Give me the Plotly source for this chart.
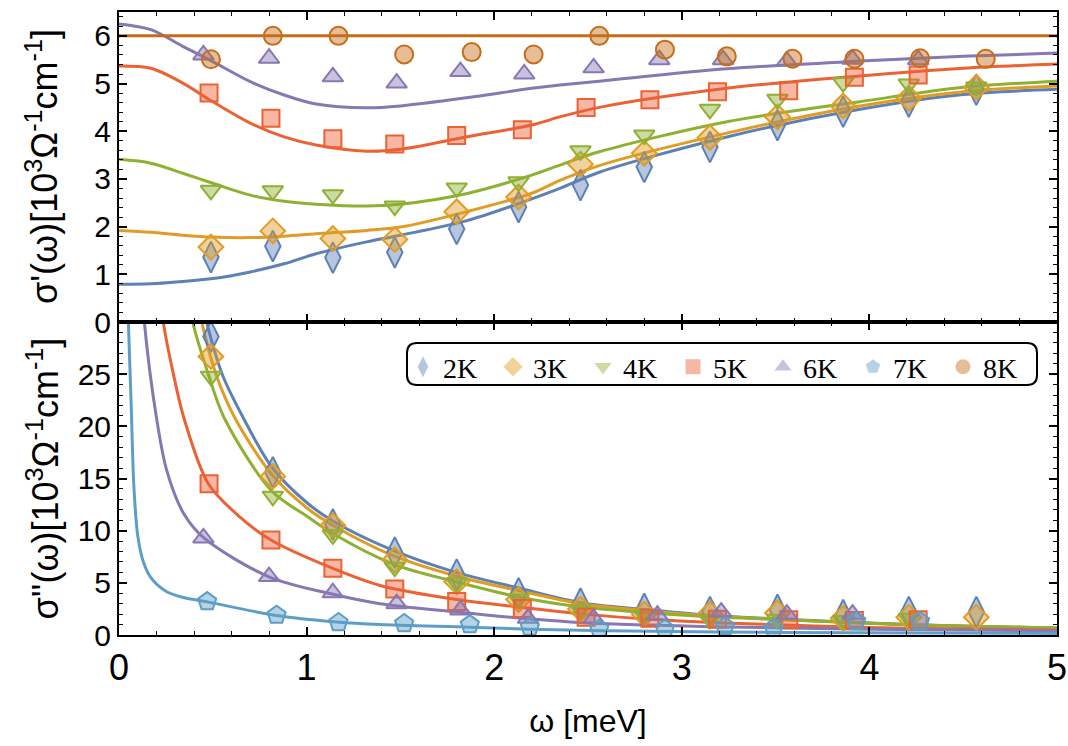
import plotly.graph_objects as go

# ---------------- data: top panel sigma' (10^3 Ohm^-1 cm^-1) ----------------
temps = ["2K", "3K", "4K", "5K", "6K", "7K", "8K"]

x_pts_a = [0.49, 0.82, 1.14, 1.47, 1.80, 2.13, 2.46, 2.80, 3.15, 3.51, 3.86, 4.21, 4.57]
s1_2K = [1.36, 1.59, 1.35, 1.46, 1.95, 2.41, 2.87, 3.25, 3.67, 4.13, 4.41, 4.62, 4.87]
s1_3K = [1.57, 1.91, 1.75, 1.73, 2.31, 2.62, 3.31, 3.54, 3.87, 4.30, 4.53, 4.69, 4.92]
s1_4K = [2.76, 2.75, 2.67, 2.43, 2.81, 2.94, 3.59, 3.92, 4.46, 4.67, 5.02, 4.99, 4.93]
x_pts_5K = [0.48, 0.81, 1.14, 1.47, 1.80, 2.15, 2.49, 2.83, 3.19, 3.57, 3.92, 4.26]
s1_5K = [4.80, 4.27, 3.84, 3.73, 3.91, 4.03, 4.50, 4.66, 4.83, 4.85, 5.13, 5.18]
x_pts_6K = [0.45, 0.80, 1.14, 1.48, 1.82, 2.16, 2.53, 2.88, 3.22, 3.56, 3.91, 4.26]
s1_6K = [5.60, 5.53, 5.14, 5.01, 5.25, 5.20, 5.33, 5.50, 5.50, 5.47, 5.51, 5.50]
x_pts_8K = [0.49, 0.82, 1.17, 1.52, 1.88, 2.21, 2.56, 2.91, 3.24, 3.59, 3.92, 4.27, 4.62]
s1_8K = [5.51, 6.00, 6.00, 5.61, 5.66, 5.61, 6.00, 5.71, 5.57, 5.52, 5.52, 5.53, 5.52]

# fit curves
x_fit_top = [0, 0.17, 0.34, 0.5, 0.7, 0.88, 1.05, 1.32, 1.5, 1.85, 2.2, 2.35, 2.56, 3.24, 3.95, 4.5, 5.0]
f1_2K = [0.79, 0.80, 0.85, 0.91, 1.05, 1.22, 1.43, 1.68, 1.82, 2.12, 2.58, 2.80, 3.14, 3.88, 4.46, 4.77, 4.88]
f1_3K = [1.92, 1.88, 1.82, 1.78, 1.77, 1.80, 1.85, 1.92, 1.99, 2.31, 2.70, 2.97, 3.28, 3.96, 4.53, 4.83, 4.95]
f1_4K = [3.41, 3.33, 3.12, 2.91, 2.66, 2.53, 2.47, 2.43, 2.47, 2.69, 3.08, 3.29, 3.57, 4.20, 4.62, 4.92, 5.05]
f1_5K = [5.37, 5.32, 5.01, 4.62, 4.17, 3.88, 3.71, 3.58, 3.62, 3.88, 4.13, 4.30, 4.50, 4.90, 5.16, 5.32, 5.41]
f1_6K = [6.25, 6.13, 5.78, 5.46, 5.04, 4.76, 4.57, 4.49, 4.53, 4.70, 4.90, 4.97, 5.05, 5.31, 5.47, 5.57, 5.64]
x_fit_8K = [0, 5.0]
f1_8K = [6.0, 6.0]

# ---------------- data: bottom panel sigma'' ----------------
s2_2K = [28.6, 15.6, 10.6, 7.9, 5.8, 4.0, 3.0, 2.5, 2.2, 2.4, 1.9, 2.2, 2.2]
s2_3K = [26.7, 15.2, 10.5, 7.2, 5.1, 3.4, 2.5, 2.0, 2.0, 2.1, 1.6, 1.7, 1.7]
x_pts2_4K = [0.49, 0.82, 1.14, 1.47, 1.80, 2.13, 2.46, 2.80, 3.15, 3.51, 3.86, 4.21]
s2_4K = [24.8, 13.3, 9.6, 6.5, 5.0, 3.45, 2.4, 1.9, 1.5, 1.5, 1.4, 1.6]
s2_5K = [14.5, 9.1, 6.4, 4.4, 3.2, 2.55, 1.7, 1.6, 1.5, 1.45, 1.4, 1.45]
x_pts2_6K = [0.45, 0.80, 1.14, 1.48, 1.82, 2.18, 2.53, 2.87, 3.21, 3.56, 3.91]
s2_6K = [9.3, 5.6, 4.05, 3.0, 2.4, 1.6, 1.6, 1.9, 2.2, 2.0, 2.0]
x_pts2_7K = [0.47, 0.84, 1.17, 1.52, 1.87, 2.19, 2.56, 2.91, 3.23, 3.49, 3.93, 4.27]
s2_7K = [3.2, 1.9, 1.2, 1.1, 1.0, 0.75, 0.58, 0.58, 0.8, 0.64, 1.3, 1.3]

xf2_2K = [0.42, 0.467, 0.55, 0.663, 0.814, 1.0, 1.142, 1.462, 1.796, 2.13, 2.46, 2.8, 3.1, 3.5, 3.9, 4.25, 4.6, 5.0]
f2_2K = [34, 30, 25.0, 20.8, 16.1, 12.7, 10.9, 8.1, 6.0, 4.5, 3.1, 2.45, 1.95, 1.55, 1.22, 0.98, 0.82, 0.66]
xf2_3K = [0.40, 0.441, 0.517, 0.618, 0.814, 1.0, 1.142, 1.462, 1.796, 2.13, 2.46, 2.8, 3.1, 3.5, 3.9, 4.25, 4.6, 5.0]
f2_3K = [34, 30, 25, 20.8, 15.4, 12.2, 10.5, 7.6, 5.65, 4.25, 3.0, 2.35, 1.9, 1.5, 1.2, 0.96, 0.8, 0.65]
xf2_4K = [0.35, 0.393, 0.476, 0.561, 0.814, 1.0, 1.142, 1.462, 1.796, 2.13, 2.46, 2.8, 3.1, 3.5, 3.9, 4.25, 4.6, 5.0]
f2_4K = [35, 30, 25, 20.8, 13.8, 11.4, 9.7, 6.8, 5.1, 3.65, 2.7, 2.15, 1.8, 1.5, 1.2, 0.97, 0.82, 0.68]
xf2_5K = [0.2, 0.236, 0.29, 0.346, 0.476, 0.645, 0.81, 1.137, 1.391, 1.8, 2.147, 2.48, 2.83, 3.18, 4.0, 5.0]
f2_5K = [36, 30, 25, 20.8, 14.5, 11.3, 9.1, 6.4, 4.75, 3.4, 2.65, 2.0, 1.5, 1.18, 0.72, 0.48]
xf2_6K = [0.11, 0.135, 0.2, 0.254, 0.343, 0.453, 0.796, 1.142, 1.391, 1.8, 2.15, 2.5, 2.84, 3.15, 4.0, 5.0]
f2_6K = [37, 30, 20.8, 15.8, 11.7, 9.3, 5.6, 3.9, 3.0, 2.2, 1.6, 1.15, 0.95, 0.8, 0.55, 0.4]
xf2_7K = [0.045, 0.05, 0.065, 0.08, 0.1, 0.13, 0.17, 0.25, 0.343, 0.465, 0.83, 1.16, 1.391, 1.87, 2.19, 2.6, 3.5, 5.0]
f2_7K = [33, 30, 22, 14, 9.5, 7.0, 5.5, 4.2, 3.6, 3.2, 1.9, 1.25, 1.0, 0.75, 0.55, 0.4, 0.25, 0.15]

# ---------------- styles ----------------
col = {"2K": "94,129,181", "3K": "225,156,36", "4K": "143,176,50", "5K": "235,98,53",
       "6K": "135,120,179", "7K": "93,158,199", "8K": "197,110,26"}
sym = {"2K": "diamond-tall", "3K": "diamond", "4K": "triangle-down", "5K": "square",
       "6K": "triangle-up", "7K": "pentagon", "8K": "circle"}
msz = {"2K": 22, "3K": 19, "4K": 18, "5K": 17, "6K": 18, "7K": 19, "8K": 18}

fig = go.Figure()


def add_line(x, y, t, xa, ya):
    fig.add_trace(go.Scatter(x=x, y=y, mode="lines", xaxis=xa, yaxis=ya, showlegend=False,
                             line=dict(color="rgb(%s)" % col[t], width=3, shape="spline", smoothing=0.9),
                             hoverinfo="skip"))


def add_pts(x, y, t, xa, ya):
    fig.add_trace(go.Scatter(x=x, y=y, mode="markers", xaxis=xa, yaxis=ya, showlegend=False,
                             marker=dict(symbol=sym[t], size=msz[t], color="rgba(%s,0.45)" % col[t],
                                         line=dict(color="rgb(%s)" % col[t], width=2)),
                             cliponaxis=True))


# top panel
for xx, yy, t in [(x_fit_top, f1_2K, "2K"), (x_fit_top, f1_3K, "3K"), (x_fit_top, f1_4K, "4K"),
                  (x_fit_top, f1_5K, "5K"), (x_fit_top, f1_6K, "6K"), (x_fit_8K, f1_8K, "8K")]:
    add_line(xx, yy, t, "x2", "y2")
for xx, yy, t in [(x_pts_a, s1_2K, "2K"), (x_pts_a, s1_3K, "3K"), (x_pts_a, s1_4K, "4K"),
                  (x_pts_5K, s1_5K, "5K"), (x_pts_6K, s1_6K, "6K"), (x_pts_8K, s1_8K, "8K")]:
    add_pts(xx, yy, t, "x2", "y2")

# bottom panel
for xx, yy, t in [(xf2_2K, f2_2K, "2K"), (xf2_3K, f2_3K, "3K"), (xf2_4K, f2_4K, "4K"),
                  (xf2_5K, f2_5K, "5K"), (xf2_6K, f2_6K, "6K"), (xf2_7K, f2_7K, "7K")]:
    add_line(xx, yy, t, "x", "y")
for xx, yy, t in [(x_pts_a, s2_2K, "2K"), (x_pts_a, s2_3K, "3K"), (x_pts2_4K, s2_4K, "4K"),
                  (x_pts_5K, s2_5K, "5K"), (x_pts2_6K, s2_6K, "6K"), (x_pts2_7K, s2_7K, "7K")]:
    add_pts(xx, yy, t, "x", "y")

# legend entries
for t in temps:
    fig.add_trace(go.Scatter(x=[None], y=[None], mode="markers", name=t, xaxis="x", yaxis="y",
                             marker=dict(symbol=sym[t], size=15, color="rgba(%s,0.45)" % col[t],
                                         line=dict(width=0))))

W, H = 1068, 746
L, R, T, B = 119, 11, 12, 111
pw, ph = W - L - R, H - T - B
split = (635 - 322) / ph

axis_common = dict(showline=True, linecolor="black", linewidth=2, mirror="allticks",
                   ticks="inside", ticklen=8, tickwidth=1.5, tickcolor="black",
                   showgrid=False, zeroline=False, automargin=False,
                   tickfont=dict(family="Liberation Sans, Arial", size=30, color="black"))

fig.update_layout(
    width=W, height=H, margin=dict(l=L, r=R, t=T, b=B, autoexpand=False),
    paper_bgcolor="white", plot_bgcolor="white",
    showlegend=True,
    xaxis=dict(axis_common, range=[0, 5], dtick=1, anchor="y", domain=[0, 1],
               minor=dict(dtick=0.2, ticklen=4, tickwidth=1.2, tickcolor="black", ticks="inside"),
               tickfont=dict(family="Liberation Sans, Arial", size=36, color="black"),
               title=dict(text="ω [meV]", font=dict(family="Liberation Sans, Arial", size=32, color="black"),
                          standoff=22)),
    xaxis2=dict(axis_common, range=[0, 5], dtick=1, anchor="y2", matches="x", showticklabels=False,
                minor=dict(dtick=0.2, ticklen=4, tickwidth=1.2, tickcolor="black", ticks="inside")),
    yaxis=dict(axis_common, range=[0, 30], tickvals=[0, 5, 10, 15, 20, 25], domain=[0, split],
               minor=dict(dtick=1, ticklen=4, tickwidth=1.2, tickcolor="black", ticks="inside")),
    yaxis2=dict(axis_common, range=[0, 6.5], dtick=1, domain=[split, 1], anchor="x2",
                minor=dict(dtick=0.2, ticklen=4, tickwidth=1.2, tickcolor="black", ticks="inside")),
    legend=dict(orientation="h", x=(403 - L) / pw, y=(635 - 342) / ph, xanchor="left", yanchor="top",
                bgcolor="rgba(0,0,0,0)", borderwidth=0, entrywidth=45, entrywidthmode="pixels",
                font=dict(family="Liberation Serif, Times New Roman", size=28, color="black"),
                itemclick=False, tracegroupgap=0),
)

# y-axis titles as rotated annotations
ytitle_font = dict(family="Liberation Sans, Arial", size=36, color="black")
fig.add_annotation(text="σ'(ω)[10<sup>3</sup>Ω<sup>-1</sup>cm<sup>-1</sup>]", xref="paper", yref="paper",
                   x=0, y=(split + 1) / 2, xshift=-77, textangle=-90, showarrow=False,
                   xanchor="center", yanchor="middle", font=ytitle_font)
fig.add_annotation(text="σ''(ω)[10<sup>3</sup>Ω<sup>-1</sup>cm<sup>-1</sup>]", xref="paper", yref="paper",
                   x=0, y=split / 2, xshift=-77, textangle=-90, showarrow=False,
                   xanchor="center", yanchor="middle", font=ytitle_font)

# rounded legend frame
x0, x1 = (407 - L) / pw, (1037 - L) / pw
y1, y0 = (635 - 343) / ph, (635 - 385) / ph
rx, ry = 10 / pw, 10 / ph
path = (f"M {x0+rx},{y1} L {x1-rx},{y1} Q {x1},{y1} {x1},{y1-ry} L {x1},{y0+ry} "
        f"Q {x1},{y0} {x1-rx},{y0} L {x0+rx},{y0} Q {x0},{y0} {x0},{y0+ry} L {x0},{y1-ry} "
        f"Q {x0},{y1} {x0+rx},{y1} Z")
fig.add_shape(type="path", path=path, xref="paper", yref="paper",
              line=dict(color="black", width=2), fillcolor="rgba(255,255,255,0)", layer="above")

fig.write_html("out.html")
